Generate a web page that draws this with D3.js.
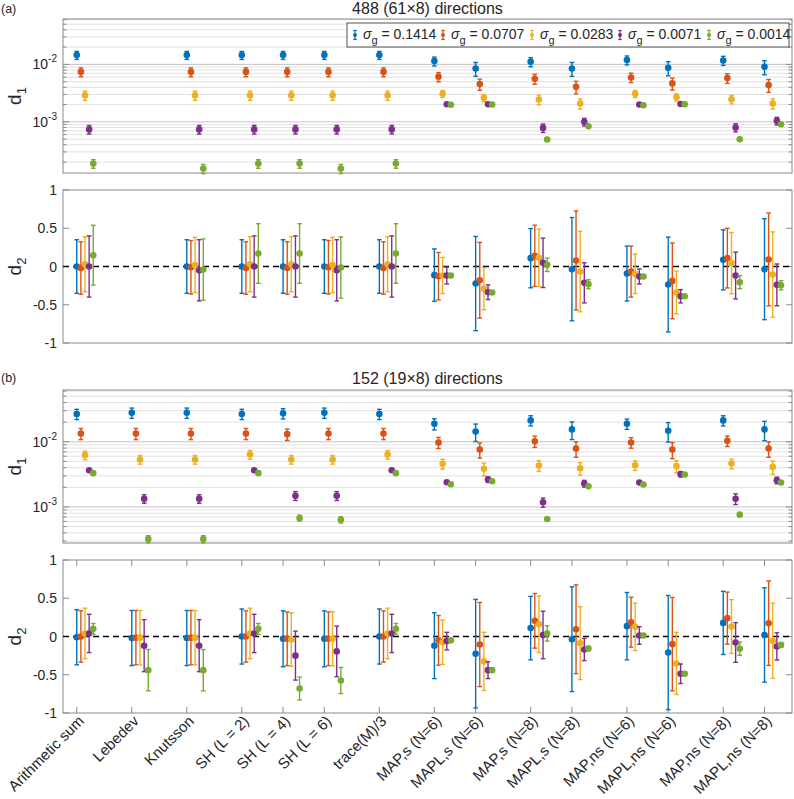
<!DOCTYPE html>
<html><head><meta charset="utf-8">
<script src="https://cdn.jsdelivr.net/npm/d3@7"></script>
<style>
body{margin:0;background:#fff;}
text{font-family:"Liberation Sans",Arial,Helvetica,sans-serif;fill:#262626;}
</style>
</head><body>
<svg id="c" width="794" height="799"></svg>
<script>
// ---------------- DATA ----------------
const categories = ["Arithmetic sum","Lebedev","Knutsson","SH (L = 2)","SH (L = 4)","SH (L = 6)","trace(M)/3",
  "MAP,s (N=6)","MAPL,s (N=6)","MAP,s (N=8)","MAPL,s (N=8)","MAP,ns (N=6)","MAPL,ns (N=6)","MAP,ns (N=8)","MAPL,ns (N=8)"];
const catPos = [1,5,9,13,16,19,23,27,30,34,37,41,44,48,51];
const sigmaLabels = ["0.1414","0.0707","0.0283","0.0071","0.0014"];
const seriesColors = ["#0072BD","#D95319","#EDB120","#7E2F8E","#77AC30"];
const seriesOffset = [0,0.3,0.6,0.9,1.2];
const panelTitles = ["488 (61\u00D78) directions","152 (19\u00D78) directions"];
const panelTags = ["(a)","(b)"];
const d2TickValues = [-1,-0.5,0,0.5,1];
const d2TickLabels = ["-1","-0.5","0","0.5","1"];
const d1MajorTicks = [1e-3,1e-2];
const d1TickLabels = ["10","10"];
const d1TickExp = ["-3","-2"];

// Panel (a) d1: one array per sigma
const a_d1_mean = [
  [0.0145,null,0.0145,0.0145,0.0145,0.0145,0.0145,0.0114,0.0085,0.0111,0.0085,0.0119,0.00873,0.0117,0.0091],
  [0.0074,null,0.0074,0.0074,0.0074,0.0074,0.0074,0.00608,0.00454,0.00562,0.00407,0.00593,0.00467,0.00577,0.00436],
  [0.0029,null,0.0029,0.0029,0.0029,0.0029,0.0029,0.00308,0.00262,0.00245,0.00209,0.00308,0.00269,0.00248,0.00209],
  [0.00074,null,0.00074,0.00074,0.00074,0.00074,0.00074,0.00203,0.00203,0.000785,0.0010,0.0020,0.00204,0.000798,0.00104],
  [0.000188,null,0.000154,0.000188,0.000188,0.000154,0.000188,0.00198,0.0020,0.000493,0.00084,0.00195,0.00203,0.0005,0.00091]
];
const a_d1_err = [
  [0.0023,null,0.0023,0.0023,0.0023,0.0023,0.0023,0.0020,0.0023,0.0020,0.0023,0.0021,0.0024,0.0021,0.0025],
  [0.0013,null,0.0013,0.0013,0.0013,0.0013,0.0013,0.0011,0.0010,0.0011,0.0010,0.0011,0.0011,0.0011,0.0011],
  [0.00053,null,0.00053,0.00053,0.00053,0.00053,0.00053,0.00043,0.00037,0.00047,0.00042,0.00043,0.00038,0.00042,0.00042],
  [0.000125,null,0.000125,0.000125,0.000125,0.000125,0.000125,0.00005,0.00005,0.00013,0.00015,0.00005,0.00005,0.00013,0.00016],
  [0.000032,null,0.000028,0.000032,0.000032,0.000028,0.000032,0.00003,0.00003,0.00002,0.00003,0.00003,0.00003,0.00002,0.00005]
];
// Panel (a) d2
const a_d2_mean = [
  [0,null,0,0,0,0,0,-0.113,-0.223,0.109,-0.035,-0.092,-0.236,0.087,-0.035],
  [-0.02,null,-0.01,-0.02,-0.02,-0.01,-0.02,-0.127,-0.18,0.14,0.079,-0.066,-0.188,0.109,0.092],
  [0.03,null,0.02,0.03,0.03,0.02,0.03,-0.118,-0.29,0.113,-0.066,-0.096,-0.34,0.044,-0.105],
  [0,null,-0.05,0,0,-0.05,0,-0.118,-0.336,0.048,-0.214,-0.131,-0.389,-0.118,-0.24],
  [0.148,null,-0.04,0.17,0.17,-0.013,0.17,-0.118,-0.34,0.022,-0.231,-0.131,-0.389,-0.205,-0.245]
];
const a_d2_err = [
  [0.35,null,0.35,0.35,0.35,0.35,0.35,0.343,0.616,0.387,0.675,0.358,0.62,0.393,0.66],
  [0.343,null,0.35,0.343,0.343,0.35,0.343,0.31,0.495,0.40,0.648,0.334,0.495,0.39,0.607],
  [0.36,null,0.36,0.36,0.36,0.36,0.36,0.236,0.275,0.375,0.526,0.258,0.28,0.40,0.557],
  [0.40,null,0.40,0.40,0.40,0.40,0.40,0.11,0.096,0.323,0.262,0.098,0.087,0.306,0.273],
  [0.39,null,0.40,0.39,0.39,0.40,0.39,0.02,0.02,0.087,0.06,0.02,0.02,0.085,0.06]
];
// Panel (b) d1
const b_d1_mean = [
  [0.0267,0.0279,0.0279,0.0267,0.0273,0.0279,0.0267,0.0189,0.0144,0.0213,0.0155,0.0189,0.0148,0.0213,0.0155],
  [0.0134,0.0134,0.0134,0.0134,0.0131,0.0134,0.0134,0.00977,0.00762,0.0102,0.00789,0.00977,0.00762,0.01036,0.00789],
  [0.00624,0.00535,0.00535,0.00638,0.00535,0.00535,0.00638,0.00459,0.00385,0.00433,0.00393,0.00437,0.00423,0.00464,0.00412],
  [0.00366,0.00134,0.00134,0.00366,0.00149,0.00149,0.00366,0.0024,0.00264,0.00118,0.00229,0.00237,0.00319,0.00134,0.00257],
  [0.0033,0.000322,0.000322,0.0033,0.000678,0.000638,0.0033,0.00223,0.00248,0.000653,0.00208,0.00221,0.00315,0.000762,0.00237]
];
const b_d1_err = [
  [0.0048,0.005,0.005,0.0048,0.0049,0.005,0.0048,0.0037,0.0043,0.0038,0.0047,0.0034,0.0049,0.0038,0.0051],
  [0.0026,0.0026,0.0026,0.0026,0.0026,0.0026,0.0026,0.0019,0.002,0.002,0.0021,0.0018,0.0021,0.0019,0.0021],
  [0.00095,0.00081,0.00081,0.00097,0.00081,0.00081,0.00097,0.00079,0.00085,0.00082,0.00086,0.00074,0.00089,0.00079,0.00095],
  [0.0001,0.0002,0.0002,0.0001,0.00023,0.00023,0.0001,0.0001,0.00026,0.00019,0.00027,0.0001,0.0003,0.00025,0.0003],
  [0.0001,0.00004,0.00004,0.0001,0.00007,0.00007,0.0001,0.0001,0.00007,0.00003,0.00006,0.0001,0.0001,0.00003,0.00008]
];
// Panel (b) d2
const b_d2_mean = [
  [-0.01,-0.02,-0.02,0,-0.03,-0.03,0,-0.12,-0.225,0.11,-0.035,0.135,-0.21,0.178,0.02],
  [0,-0.015,-0.015,0,-0.03,-0.03,0,-0.05,-0.105,0.205,0.095,0.187,-0.1,0.24,0.174],
  [0.04,-0.015,-0.015,0.04,-0.04,-0.03,0.04,-0.075,-0.325,0.16,-0.087,0.126,-0.352,0.13,-0.057],
  [0.04,-0.12,-0.12,0.04,-0.25,-0.195,0.04,-0.06,-0.44,0.02,-0.17,0.013,-0.487,-0.078,-0.13],
  [0.10,-0.44,-0.44,0.10,-0.68,-0.575,0.10,-0.05,-0.44,0.04,-0.157,0.013,-0.487,-0.16,-0.11]
];
const b_d2_err = [
  [0.36,0.36,0.36,0.36,0.365,0.365,0.36,0.43,0.71,0.415,0.685,0.44,0.746,0.413,0.617],
  [0.335,0.355,0.355,0.335,0.35,0.35,0.335,0.325,0.55,0.357,0.58,0.326,0.61,0.34,0.552],
  [0.33,0.355,0.355,0.33,0.35,0.355,0.33,0.29,0.38,0.37,0.476,0.31,0.406,0.352,0.491],
  [0.25,0.34,0.34,0.25,0.32,0.33,0.25,0.115,0.11,0.31,0.145,0.115,0.128,0.259,0.178],
  [0.07,0.27,0.27,0.07,0.15,0.17,0.07,0.02,0.02,0.10,0.03,0.02,0.02,0.087,0.03]
];

// ---------------- DRAWING ----------------
const svg = d3.select("#c");
const L = 63, R = 792;
const x = d3.scaleLinear().domain([0, 53]).range([L, R]);
const axisColor = "#8a8a8a";
const capW = 2.3, mR = 3.3;

function drawSeries(g, y, means, errs, isLog) {
  means.forEach((ser, si) => {
    const col = seriesColors[si];
    const sg = g.append("g");
    ser.forEach((v, ci) => {
      if (v === null) return;
      const e = errs[si][ci];
      const cx = x(catPos[ci] + seriesOffset[si]);
      let lo = v - e, hi = v + e;
      if (isLog && lo <= 0) lo = y.domain()[0];
      const y0 = y(lo), y1 = y(hi);
      sg.append("line").attr("x1", cx).attr("x2", cx).attr("y1", y0).attr("y2", y1)
        .attr("stroke", col).attr("stroke-width", 1.4);
      [y0, y1].forEach(yy => sg.append("line").attr("x1", cx - capW).attr("x2", cx + capW)
        .attr("y1", yy).attr("y2", yy).attr("stroke", col).attr("stroke-width", 1.4));
      sg.append("circle").attr("cx", cx).attr("cy", y(v)).attr("r", mR).attr("fill", col);
    });
  });
}

function frame(g, top, bottom) {
  g.append("rect").attr("x", L).attr("y", top).attr("width", R - L).attr("height", bottom - top)
    .attr("fill", "none").attr("stroke", axisColor).attr("stroke-width", 1);
}

function panelD1(top, bottom, domain, means, errs) {
  const g = svg.append("g");
  const y = d3.scaleLog().domain(domain).range([bottom, top]);
  const minor = [], major = [];
  for (let k = -5; k <= 0; k++) {
    for (let m = 1; m <= 9; m++) {
      const v = m * Math.pow(10, k);
      if (v < domain[0] || v > domain[1]) continue;
      (m === 1 ? major : minor).push(v);
    }
  }
  g.selectAll(".mi").data(minor).enter().append("line")
    .attr("x1", L).attr("x2", R).attr("y1", d => y(d)).attr("y2", d => y(d))
    .attr("stroke", "#e2e2e2").attr("stroke-width", 1);
  g.selectAll(".ma").data(major).enter().append("line")
    .attr("x1", L).attr("x2", R).attr("y1", d => y(d)).attr("y2", d => y(d))
    .attr("stroke", "#c4c4c4").attr("stroke-width", 1);
  minor.concat(major).forEach(v => {
    const len = major.includes(v) ? 6 : 3.5;
    g.append("line").attr("x1", L).attr("x2", L + len).attr("y1", y(v)).attr("y2", y(v)).attr("stroke", axisColor);
    g.append("line").attr("x1", R).attr("x2", R - len).attr("y1", y(v)).attr("y2", y(v)).attr("stroke", axisColor);
  });
  d1MajorTicks.forEach((v, i) => {
    const t = g.append("text").attr("x", L - 6).attr("y", y(v) + 5).attr("text-anchor", "end").attr("font-size", 14);
    t.append("tspan").text(d1TickLabels[i]);
    t.append("tspan").attr("dy", -7).attr("font-size", 10).text(d1TickExp[i]);
  });
  frame(g, top, bottom);
  const yl = g.append("text").attr("transform", `translate(21,${(top + bottom) / 2}) rotate(-90)`)
    .attr("text-anchor", "middle").attr("font-size", 19);
  yl.append("tspan").text("d");
  yl.append("tspan").attr("dy", 5).attr("font-size", 13).text("1");
  drawSeries(g, y, means, errs, true);
  return g;
}

function panelD2(top, bottom, means, errs, showXLabels) {
  const g = svg.append("g");
  const y = d3.scaleLinear().domain([-1, 1]).range([bottom, top]);
  frame(g, top, bottom);
  if (showXLabels) {
    catPos.forEach(p => {
      g.append("line").attr("x1", x(p)).attr("x2", x(p)).attr("y1", top).attr("y2", top + 6).attr("stroke", axisColor);
      g.append("line").attr("x1", x(p)).attr("x2", x(p)).attr("y1", bottom).attr("y2", bottom - 6).attr("stroke", axisColor);
    });
  }
  d2TickValues.forEach((v, i) => {
    g.append("line").attr("x1", L).attr("x2", L + 6).attr("y1", y(v)).attr("y2", y(v)).attr("stroke", axisColor);
    g.append("line").attr("x1", R).attr("x2", R - 6).attr("y1", y(v)).attr("y2", y(v)).attr("stroke", axisColor);
    g.append("text").attr("x", L - 6).attr("y", y(v) + 5).attr("text-anchor", "end").attr("font-size", 14).text(d2TickLabels[i]);
  });
  g.append("line").attr("x1", L).attr("x2", R).attr("y1", y(0)).attr("y2", y(0))
    .attr("stroke", "#000").attr("stroke-width", 1.5).attr("stroke-dasharray", "6,4");
  const yl = g.append("text").attr("transform", `translate(21,${(top + bottom) / 2}) rotate(-90)`)
    .attr("text-anchor", "middle").attr("font-size", 19);
  yl.append("tspan").text("d");
  yl.append("tspan").attr("dy", 5).attr("font-size", 13).text("2");
  drawSeries(g, y, means, errs, false);
  if (showXLabels) {
    categories.forEach((c, i) => {
      g.append("text").attr("transform", `translate(${x(catPos[i]) + 8},${bottom + 9}) rotate(-45)`)
        .attr("text-anchor", "end").attr("font-size", 15).text(c);
    });
  }
}

svg.append("text").attr("x", 1).attr("y", 13).attr("font-size", 12.5).text(panelTags[0]);
svg.append("text").attr("x", (L + R) / 2).attr("y", 14).attr("text-anchor", "middle").attr("font-size", 16).text(panelTitles[0]);
svg.append("text").attr("x", 1).attr("y", 382).attr("font-size", 12.5).text(panelTags[1]);
svg.append("text").attr("x", (L + R) / 2).attr("y", 384).attr("text-anchor", "middle").attr("font-size", 16).text(panelTitles[1]);

panelD1(19, 173, [1.29e-4, 0.0616], a_d1_mean, a_d1_err);
panelD2(190, 343, a_d2_mean, a_d2_err, false);
panelD1(390, 543, [2.8e-4, 0.0623], b_d1_mean, b_d1_err);
panelD2(560, 713, b_d2_mean, b_d2_err, true);

const lg = svg.append("g");
lg.append("rect").attr("x", 347).attr("y", 23).attr("width", 442).attr("height", 24)
  .attr("fill", "#fff").attr("stroke", "#262626").attr("stroke-width", 0.8);
const legX = [355, 443, 532, 620, 709];
sigmaLabels.forEach((s, i) => {
  const cx = legX[i], cy = 35, col = seriesColors[i];
  lg.append("line").attr("x1", cx).attr("x2", cx).attr("y1", cy - 4.5).attr("y2", cy + 4.5).attr("stroke", col).attr("stroke-width", 1.2);
  [cy - 4.5, cy + 4.5].forEach(yy => lg.append("line").attr("x1", cx - 1.8).attr("x2", cx + 1.8).attr("y1", yy).attr("y2", yy).attr("stroke", col).attr("stroke-width", 1.2));
  lg.append("circle").attr("cx", cx).attr("cy", cy).attr("r", 2).attr("fill", col);
  const t = lg.append("text").attr("x", cx + 8).attr("y", cy + 4).attr("font-size", 14);
  t.append("tspan").attr("font-style", "italic").text("\u03C3");
  t.append("tspan").attr("dy", 5).attr("font-size", 11).text("g");
  t.append("tspan").attr("dy", -5).text(" = " + s);
});
</script>
</body></html>
